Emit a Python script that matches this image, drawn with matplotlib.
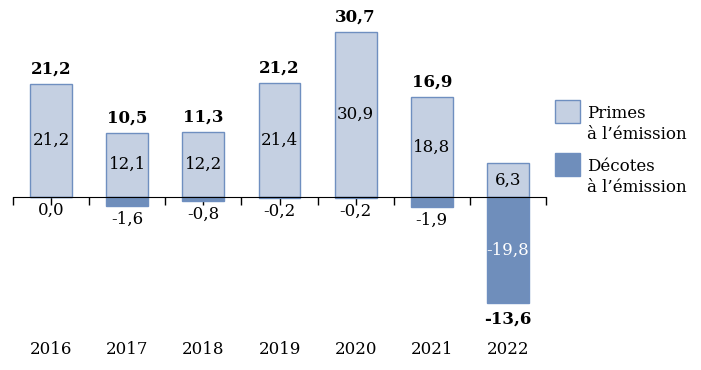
import matplotlib
matplotlib.use("Agg")
import matplotlib.pyplot as plt
from matplotlib.patches import Rectangle
import numpy as np

years = ["2016", "2017", "2018", "2019", "2020", "2021", "2022"]
primes = [21.2, 12.1, 12.2, 21.4, 30.9, 18.8, 6.3]
decotes = [0.0, -1.6, -0.8, -0.2, -0.2, -1.9, -19.8]
totals = [21.2, 10.5, 11.3, 21.2, 30.7, 16.9, -13.6]
legend_labels = ["Primes\nà l’émission", "Décotes\nà l’émission"]

light = "#C5D0E2"
dark = "#6F8EBB"
edge = "#6F8FC0"

plt.rcParams['font.family'] = ['DejaVu Serif']

W, H = 701, 370
fig = plt.figure(figsize=(W / 100, H / 100), dpi=100)
ax = fig.add_axes([13/W, 39.5/H, 533/W, (330.5-21)/H])

x = np.arange(len(years))
w = 0.55
ax.bar(x, primes, w, color=light, edgecolor=edge, linewidth=1.0, zorder=2)
ax.bar(x, decotes, w, color=dark, edgecolor=edge, linewidth=1.0, zorder=2)

ax.set_xlim(-0.5, len(years) - 0.5)
ax.set_ylim(-25, 33)

for s in ["top", "right", "left"]:
    ax.spines[s].set_visible(False)
ax.spines["bottom"].set_position(("data", 0))
ax.spines["bottom"].set_zorder(3)
ax.set_yticks([])
ax.set_xticks(np.arange(-0.5, len(years)), labels=[])
ax.set_xticks(x, minor=True)
ax.tick_params(axis="x", which="both", length=6, width=1, direction="out", color="black")
ax.tick_params(axis="x", which="minor", labelbottom=False)

fs = 12
for i in range(len(years)):
    p, d, t = primes[i], decotes[i], totals[i]
    ax.text(x[i], p / 2, f"{p:.1f}".replace(".", ","), ha="center", va="center", fontsize=fs, zorder=4)
    ds = f"{d:.1f}".replace(".", ",")
    if abs(d) > 5:
        ax.text(x[i], d / 2, ds, ha="center", va="center", fontsize=fs, color="white", zorder=4)
    else:
        ax.text(x[i], d - 0.9, ds, ha="center", va="top", fontsize=fs, zorder=4)
    ts = f"{t:.1f}".replace(".", ",")
    if t >= 0:
        ax.text(x[i], p + 1.2, ts, ha="center", va="bottom", fontsize=fs, fontweight="bold", zorder=4)
    else:
        ax.text(x[i], min(0, d) - 1.5, ts, ha="center", va="top", fontsize=fs, fontweight="bold", zorder=4)
    ax.text(x[i], -28.6, years[i], ha="center", va="center", fontsize=fs, clip_on=False)

# legend drawn manually (square top-aligned with two-line label)
for k, (col, lab) in enumerate(zip([light, dark], legend_labels)):
    top = 100 + k * 53
    fig.patches.append(Rectangle((555 / W, 1 - (top + 23) / H), 25 / W, 23 / H,
                                 transform=fig.transFigure, facecolor=col, edgecolor=edge, linewidth=1.0))
    fig.text(587 / W, 1 - (top + 24) / H, lab, ha="left", va="center", fontsize=fs, linespacing=1.3)

fig.savefig("out.png", dpi=100)
